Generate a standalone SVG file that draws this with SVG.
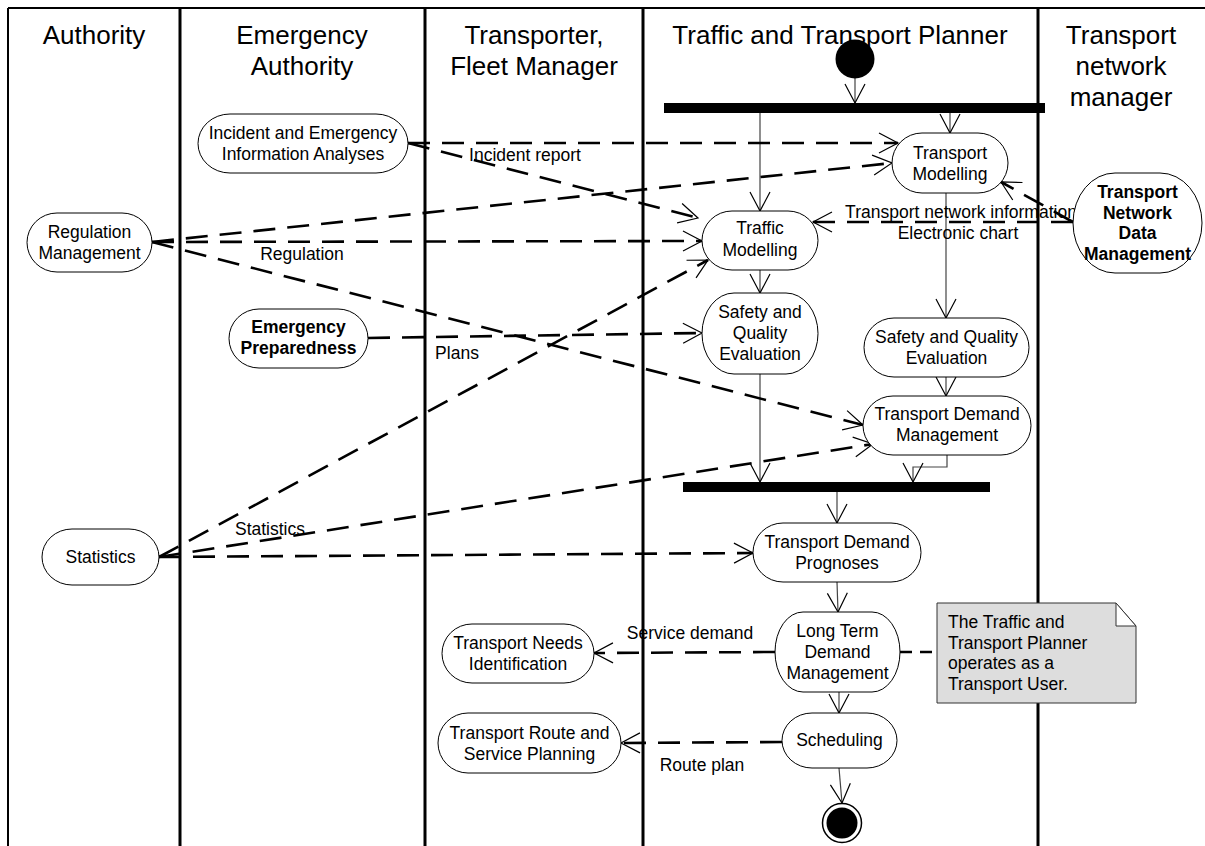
<svg xmlns="http://www.w3.org/2000/svg" width="1205" height="846" viewBox="0 0 1205 846">
  <style>
    .lane { stroke: #000; stroke-width: 3; fill: none; }
    .frame { stroke: #000; stroke-width: 2; fill: none; }
    .hdr { font-family: "Liberation Sans", Arial, sans-serif; font-size: 26px; text-anchor: middle; fill: #000; }
    .node rect { fill: #fff; stroke: #000; stroke-width: 1; }
    .txt { font-family: "Liberation Sans", Arial, sans-serif; font-size: 17.5px; text-anchor: middle; fill: #000; }
    .bold { font-weight: bold; }
    .lbl { font-family: "Liberation Sans", Arial, sans-serif; font-size: 17.5px; text-anchor: middle; fill: #000; }
    .flow { stroke: #444; stroke-width: 1.2; fill: none; marker-end: url(#vee); }
    .dep { stroke: #000; stroke-width: 2.6; fill: none; stroke-dasharray: 22 12; marker-end: url(#vee); }
    .anchor { stroke: #000; stroke-width: 2.6; fill: none; stroke-dasharray: 12 8; }
    .bar { fill: #000; }
  </style>
  <defs>
    <marker id="vee" markerUnits="userSpaceOnUse" markerWidth="24" markerHeight="24" refX="0" refY="0" viewBox="-21 -12 24 24" orient="auto" overflow="visible">
      <path d="M -19 -10 L 0 0 L -19 10" fill="none" stroke="#000" stroke-width="1.2"/>
    </marker>
  </defs>

  <rect width="1205" height="846" fill="#fff"/>

  <!-- swimlanes -->
  <g id="lanes">
    <line class="frame" x1="8" y1="8" x2="1205" y2="8"/>
    <line class="frame" x1="8" y1="8" x2="8" y2="846"/>
    <line class="lane" x1="180" y1="8" x2="180" y2="846"/>
    <line class="lane" x1="425" y1="8" x2="425" y2="846"/>
    <line class="lane" x1="643" y1="8" x2="643" y2="846"/>
    <line class="lane" x1="1038" y1="8" x2="1038" y2="846"/>
    <text class="hdr" x="94" y="44">Authority</text>
    <text class="hdr" x="302" y="44">Emergency</text>
    <text class="hdr" x="302" y="75">Authority</text>
    <text class="hdr" x="534" y="44">Transporter,</text>
    <text class="hdr" x="534" y="75">Fleet Manager</text>
    <text class="hdr" x="840" y="44">Traffic and Transport Planner</text>
    <text class="hdr" x="1121" y="44">Transport</text>
    <text class="hdr" x="1121" y="75">network</text>
    <text class="hdr" x="1121" y="106">manager</text>
  </g>

  <!-- connectors -->
  <g id="connectors">
    <!-- control flow -->
    <line class="flow" x1="855" y1="78" x2="855" y2="103"/>
    <line class="flow" x1="760" y1="113" x2="760" y2="211"/>
    <line class="flow" x1="950" y1="113" x2="950" y2="133"/>
    <line class="flow" x1="760" y1="270" x2="760" y2="293"/>
    <line class="flow" x1="946" y1="193" x2="946" y2="318"/>
    <line class="flow" x1="946" y1="377" x2="946" y2="396"/>
    <line class="flow" x1="760" y1="374" x2="760" y2="482"/>
    <polyline class="flow" points="947,455 947,467 913,467 913,482"/>
    <line class="flow" x1="837" y1="492" x2="837" y2="523"/>
    <line class="flow" x1="837" y1="582" x2="838" y2="612"/>
    <line class="flow" x1="839" y1="692" x2="839" y2="713"/>
    <line class="flow" x1="839" y1="768" x2="842" y2="803"/>

    <!-- object / information flows -->
    <line class="dep" x1="408" y1="143" x2="898" y2="143"/>
    <line class="dep" x1="408" y1="143" x2="698" y2="218"/>
    <line class="dep" x1="152" y1="242" x2="892" y2="163"/>
    <line class="dep" x1="152" y1="242" x2="702" y2="241"/>
    <line class="dep" x1="152" y1="242" x2="863" y2="425"/>
    <line class="dep" x1="368" y1="338" x2="702" y2="333"/>
    <line class="dep" x1="159" y1="557" x2="708" y2="260"/>
    <line class="dep" x1="159" y1="557" x2="873" y2="444"/>
    <line class="dep" x1="159" y1="557" x2="753" y2="553"/>
    <line class="dep" x1="1073" y1="222" x2="813" y2="222"/>
    <line class="dep" x1="1073" y1="222" x2="1001" y2="182"/>
    <line class="dep" x1="775" y1="652" x2="594" y2="653"/>
    <line class="dep" x1="782" y1="742" x2="621" y2="743"/>
    <line class="anchor" x1="900" y1="652" x2="937" y2="652"/>

    <text class="lbl" x="525" y="161">Incident report</text>
    <text class="lbl" x="302" y="260">Regulation</text>
    <text class="lbl" x="457" y="359">Plans</text>
    <text class="lbl" x="270" y="535">Statistics</text>
    <text class="lbl" x="961" y="218">Transport network information</text>
    <text class="lbl" x="958" y="239">Electronic chart</text>
    <text class="lbl" x="690" y="639">Service demand</text>
    <text class="lbl" x="702" y="771">Route plan</text>
  </g>

  <!-- start, fork and join -->
  <g id="start"><circle cx="855" cy="59" r="19.5" fill="#000"/></g>
  <g id="fork"><rect class="bar" x="664" y="103" width="381" height="10"/></g>
  <g id="join"><rect class="bar" x="683" y="482" width="307" height="10"/></g>
  <g id="end">
    <circle cx="842" cy="823" r="19.5" fill="#fff" stroke="#000" stroke-width="1.5"/>
    <circle cx="842" cy="823" r="15.5" fill="#000"/>
  </g>

  <!-- activities -->
  <g id="incident-analyses" class="node">
    <rect x="198" y="114" width="210" height="59" rx="32" ry="29.5"/>
    <text class="txt" x="303" y="138.5">Incident and Emergency</text>
    <text class="txt" x="303" y="159.5">Information Analyses</text>
  </g>
  <g id="regulation-management" class="node">
    <rect x="27" y="213" width="125" height="59" rx="30" ry="29.5"/>
    <text class="txt" x="89.5" y="238">Regulation</text>
    <text class="txt" x="89.5" y="259">Management</text>
  </g>
  <g id="emergency-preparedness" class="node">
    <rect x="229" y="309" width="139" height="59" rx="30" ry="29.5"/>
    <text class="txt bold" x="298.5" y="333">Emergency</text>
    <text class="txt bold" x="298.5" y="354">Preparedness</text>
  </g>
  <g id="statistics" class="node">
    <rect x="42" y="529" width="117" height="56" rx="30" ry="28"/>
    <text class="txt" x="100.5" y="563">Statistics</text>
  </g>
  <g id="transport-needs" class="node">
    <rect x="442" y="624" width="152" height="59" rx="30" ry="29.5"/>
    <text class="txt" x="518" y="649">Transport Needs</text>
    <text class="txt" x="518" y="670">Identification</text>
  </g>
  <g id="route-planning" class="node">
    <rect x="438" y="713" width="183" height="60" rx="30" ry="30"/>
    <text class="txt" x="529.5" y="739">Transport Route and</text>
    <text class="txt" x="529.5" y="760">Service Planning</text>
  </g>
  <g id="traffic-modelling" class="node">
    <rect x="702" y="211" width="116" height="59" rx="30" ry="29.5"/>
    <text class="txt" x="760" y="234">Traffic</text>
    <text class="txt" x="760" y="256">Modelling</text>
  </g>
  <g id="transport-modelling" class="node">
    <rect x="892" y="133" width="116" height="60" rx="30" ry="30"/>
    <text class="txt" x="950" y="159">Transport</text>
    <text class="txt" x="950" y="180">Modelling</text>
  </g>
  <g id="network-data-management" class="node">
    <rect x="1073" y="173" width="129" height="100" rx="42" ry="50"/>
    <text class="txt bold" x="1137.5" y="198">Transport</text>
    <text class="txt bold" x="1137.5" y="218.5">Network</text>
    <text class="txt bold" x="1137.5" y="239">Data</text>
    <text class="txt bold" x="1137.5" y="260">Management</text>
  </g>
  <g id="safety-quality-a" class="node">
    <rect x="702" y="293" width="116" height="81" rx="32" ry="40.5"/>
    <text class="txt" x="760" y="318">Safety and</text>
    <text class="txt" x="760" y="339">Quality</text>
    <text class="txt" x="760" y="360">Evaluation</text>
  </g>
  <g id="safety-quality-b" class="node">
    <rect x="864" y="318" width="165" height="59" rx="30" ry="29.5"/>
    <text class="txt" x="946.5" y="343">Safety and Quality</text>
    <text class="txt" x="946.5" y="364">Evaluation</text>
  </g>
  <g id="demand-management" class="node">
    <rect x="863" y="396" width="168" height="59" rx="30" ry="29.5"/>
    <text class="txt" x="947" y="420">Transport Demand</text>
    <text class="txt" x="947" y="441">Management</text>
  </g>
  <g id="demand-prognoses" class="node">
    <rect x="753" y="523" width="168" height="59" rx="30" ry="29.5"/>
    <text class="txt" x="837" y="548">Transport Demand</text>
    <text class="txt" x="837" y="569">Prognoses</text>
  </g>
  <g id="long-term-demand" class="node">
    <rect x="775" y="612" width="125" height="80" rx="28" ry="40"/>
    <text class="txt" x="837.5" y="637">Long Term</text>
    <text class="txt" x="837.5" y="658">Demand</text>
    <text class="txt" x="837.5" y="679">Management</text>
  </g>
  <g id="scheduling" class="node">
    <rect x="782" y="713" width="115" height="55" rx="30" ry="27.5"/>
    <text class="txt" x="839.5" y="746">Scheduling</text>
  </g>

  <!-- note -->
  <g id="note">
    <polygon points="937,603 1116,603 1136,626 1136,703 937,703" fill="#dddddd" stroke="#333" stroke-width="1"/>
    <polygon points="1116,603 1116,626 1136,626" fill="#fff" stroke="#333" stroke-width="1"/>
    <text class="txt" x="948" y="628" style="text-anchor:start">The Traffic and</text>
    <text class="txt" x="948" y="649" style="text-anchor:start">Transport Planner</text>
    <text class="txt" x="948" y="669" style="text-anchor:start">operates as a</text>
    <text class="txt" x="948" y="690" style="text-anchor:start">Transport User.</text>
  </g>
</svg>
